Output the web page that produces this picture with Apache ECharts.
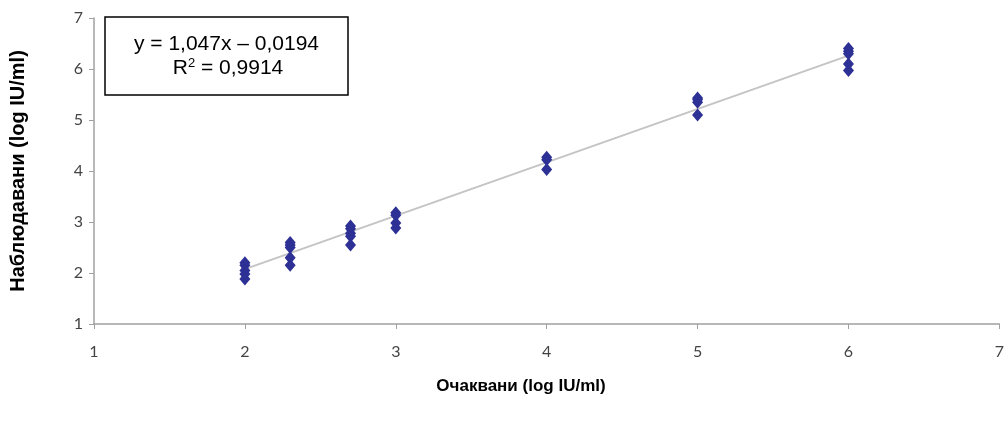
<!DOCTYPE html>
<html>
<head>
<meta charset="utf-8">
<script src="https://cdn.jsdelivr.net/npm/echarts@6/dist/echarts.min.js"></script>
<style>html,body{margin:0;padding:0;background:#fff}#c{width:1007px;height:423px}</style>
</head>
<body>
<div id="c"></div>
<script>
const expected = [2, 2.3, 2.7, 3, 4, 5, 6];
const observed = [
  [2.2, 2.15, 2.05, 1.98, 1.88],
  [2.6, 2.55, 2.5, 2.3, 2.15],
  [2.92, 2.87, 2.78, 2.72, 2.55],
  [3.18, 3.13, 2.98, 2.88],
  [4.27, 4.22, 4.03],
  [5.43, 5.4, 5.35, 5.1],
  [6.4, 6.35, 6.3, 6.1, 5.97]
];
const trendX = [2, 6];
const trendY = [2.075, 6.263];
const xTicks = [1, 2, 3, 4, 5, 6, 7];
const yTicks = [1, 2, 3, 4, 5, 6, 7];

const pts = [];
expected.forEach((x, i) => observed[i].forEach(v => pts.push([x, v])));
const trend = trendX.map((x, i) => [x, trendY[i]]);

const chart = echarts.init(document.getElementById('c'), null, {renderer: 'canvas'});
const axisCommon = {
  min: 1, max: 7, interval: 1,
  axisLine: {show: true, onZero: false, lineStyle: {color: '#a0a0a0', width: 1.5}},
  axisTick: {show: true, length: 5, lineStyle: {color: '#a0a0a0', width: 1}},
  splitLine: {show: false},
  axisLabel: {color: '#444', fontFamily: 'Lato', fontSize: 16}
};
chart.setOption({
  animation: false,
  grid: {left: 94, right: 5, top: 18, bottom: 99},
  xAxis: Object.assign({}, axisCommon, {
    type: 'value',
    axisLabel: Object.assign({}, axisCommon.axisLabel, {margin: 20, formatter: v => xTicks.includes(v) ? String(v) : ''})
  }),
  yAxis: Object.assign({}, axisCommon, {
    type: 'value',
    axisLabel: Object.assign({}, axisCommon.axisLabel, {margin: 11, formatter: v => yTicks.includes(v) ? String(v) : ''}),
    name: 'Наблюдавани (log IU/ml)',
    nameLocation: 'middle',
    nameGap: 66,
    nameTextStyle: {fontFamily: 'Liberation Sans', fontWeight: 'bold', fontSize: 20, color: '#000'}
  }),
  series: [
    {
      type: 'line', data: trend, symbol: 'none',
      lineStyle: {color: '#c4c4c4', width: 2}, z: 1
    },
    {
      type: 'scatter', data: pts, symbol: 'diamond', symbolSize: [11, 13],
      itemStyle: {color: '#2d3094', opacity: 1}, z: 2
    }
  ],
  graphic: [
    {
      type: 'text', x: 521, y: 386,
      style: {text: 'Очаквани (log IU/ml)', font: 'bold 17px "Liberation Sans"', fill: '#000', align: 'center', verticalAlign: 'middle'}
    },
    {
      type: 'rect', shape: {x: 105, y: 17, width: 243, height: 78},
      style: {fill: '#fff', stroke: '#000', lineWidth: 1.5}, z: 10
    },
    {
      type: 'text', x: 226.5, y: 44, z: 11,
      style: {text: 'y = 1,047x – 0,0194', font: '21px "Liberation Sans"', fill: '#000', align: 'center', verticalAlign: 'middle'}
    },
    {
      type: 'text', x: 228, y: 68, z: 11,
      style: {
        text: '{a|R}{s|2}{a| = 0,9914}', align: 'center', verticalAlign: 'middle',
        rich: {
          a: {font: '21px "Liberation Sans"', fill: '#000', verticalAlign: 'bottom', lineHeight: 22},
          s: {font: '13px "Liberation Sans"', fill: '#000', verticalAlign: 'top', padding: [0, 0, 10, 0], lineHeight: 22}
        }
      }
    }
  ]
});
</script>
</body>
</html>
